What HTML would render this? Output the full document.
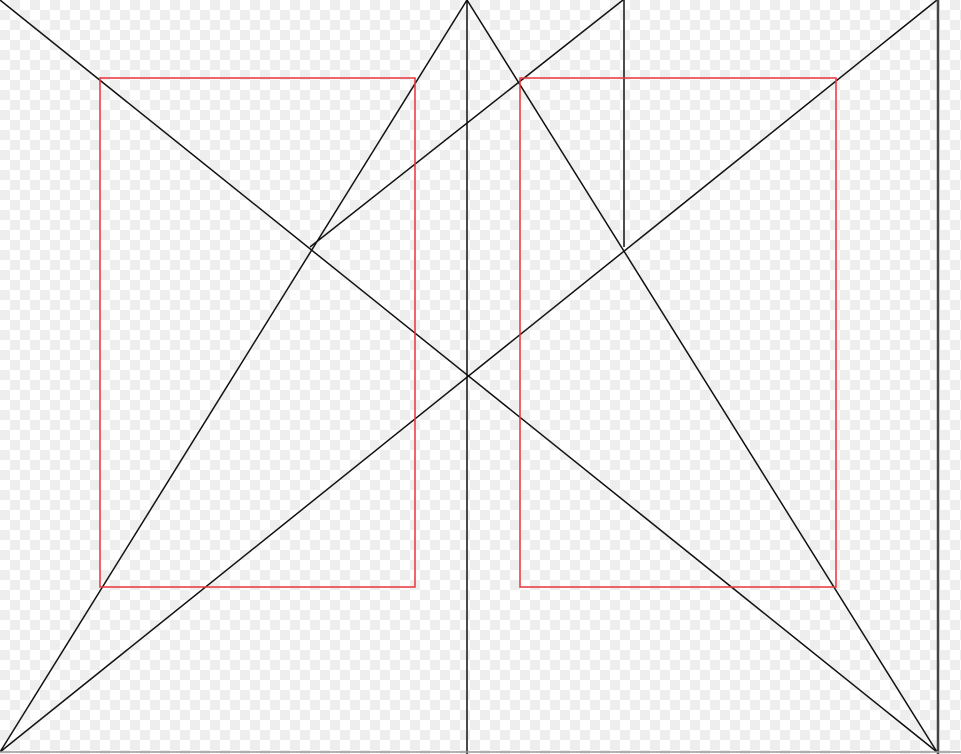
<!DOCTYPE html>
<html><head><meta charset="utf-8"><style>
html,body{margin:0;padding:0;width:961px;height:754px;overflow:hidden;}
body{background-color:#fff;background-image:linear-gradient(45deg,#eee 25%,transparent 25%,transparent 75%,#eee 75%),linear-gradient(45deg,#eee 25%,transparent 25%,transparent 75%,#eee 75%);background-size:20px 20px;background-position:0 0,10px 10px;}
svg{position:absolute;left:0;top:0;}
</style></head><body>
<svg id="diagram" width="961" height="754" viewBox="0 0 961 754">
<g id="lines"></g>
<g id="rects"></g>
</svg>
<script>
const lineStarts = [[0,0],[0,752],[0,752],[467,0],[310,247],[467,0],[624,0],[938,0],[0,752]];
const lineEnds = [[937,752],[937,0],[467,0],[937,752],[623,0],[467,754],[624,247],[938,754],[961,752]];
const lineColors = ["#111","#111","#111","#111","#111","#111","#111","#444","#999"];
const lineWidths = [1.5,1.5,1.5,1.5,1.5,1.5,1.5,2.5,1.5];
const rectCorners = [[100,78,415,587],[520,78,836,587]];
const ns="http://www.w3.org/2000/svg";
const lg=document.getElementById('lines');
lineStarts.forEach((s,i)=>{
  const l=document.createElementNS(ns,'line');
  l.setAttribute('x1',s[0]);l.setAttribute('y1',s[1]);
  l.setAttribute('x2',lineEnds[i][0]);l.setAttribute('y2',lineEnds[i][1]);
  l.setAttribute('stroke',lineColors[i]);l.setAttribute('stroke-width',lineWidths[i]);
  
  
  lg.appendChild(l);
});
const rg=document.getElementById('rects');
rectCorners.forEach(r=>{
  const e=document.createElementNS(ns,'rect');
  e.setAttribute('x',r[0]);e.setAttribute('y',r[1]);
  e.setAttribute('width',r[2]-r[0]);e.setAttribute('height',r[3]-r[1]);
  e.setAttribute('fill','none');e.setAttribute('stroke','#e8343c');e.setAttribute('stroke-width',1.5);
  
  
  rg.appendChild(e);
});
</script>
</body></html>
